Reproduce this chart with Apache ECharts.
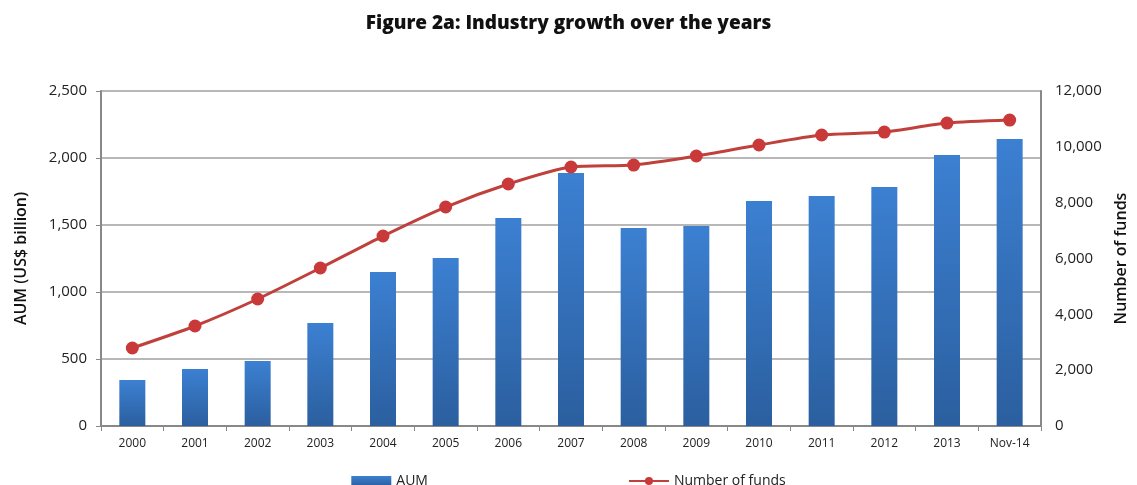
<!DOCTYPE html>
<html><head><meta charset="utf-8">
<script src="https://cdn.jsdelivr.net/npm/echarts@6/dist/echarts.min.js"></script>
<style>html,body{margin:0;padding:0;background:#fff}#c{width:1137px;height:485px}</style>
</head><body><div id="c"></div>
<script>
const categories = ['2000','2001','2002','2003','2004','2005','2006','2007','2008','2009','2010','2011','2012','2013','Nov-14'];
const aum = [343, 425, 485, 769, 1149, 1254, 1552, 1888, 1478, 1493, 1679, 1716, 1784, 2022, 2142];
const funds = [2794, 3582, 4549, 5659, 6805, 7844, 8668, 9277, 9348, 9671, 10065, 10423, 10530, 10852, 10960];

const font = '"Open Sans", "DejaVu Sans", sans-serif';
const chart = echarts.init(document.getElementById('c'));
chart.setOption({
  animation: false,
  title: { text: 'Figure 2a: Industry growth over the years', left: 'center', top: 9,
    textStyle: { fontFamily: font, fontWeight: 800, fontSize: 19, color: '#111' } },
  grid: { left: 101, right: 87, top: 91, bottom: 59 },
  legend: {
    top: 469, left: 'center', itemGap: 200, itemWidth: 40, itemHeight: 10,
    textStyle: { fontFamily: font, fontSize: 14, color: '#222' },
    data: [{ name: 'AUM', icon: 'rect' }, { name: 'Number of funds' }]
  },
  xAxis: {
    type: 'category', data: categories, boundaryGap: true,
    axisLine: { lineStyle: { color: '#888', width: 2 } },
    axisTick: { show: true, alignWithLabel: false, lineStyle: { color: '#888' }, length: 5 },
    axisLabel: { fontFamily: font, fontSize: 12, color: '#222', margin: 12 }
  },
  yAxis: [
    { type: 'value', min: 0, max: 2500, interval: 500, name: 'AUM (US$ billion)',
      nameLocation: 'middle', nameGap: 72, nameRotate: 90,
      nameTextStyle: { fontFamily: font, fontSize: 16, fontWeight: 600, color: '#111' },
      axisLine: { show: true, lineStyle: { color: '#888', width: 2 } },
      axisTick: { show: true, length: 5, lineStyle: { color: '#888' } },
      axisLabel: { fontFamily: font, fontSize: 15, color: '#222', margin: 14,
        formatter: v => v.toLocaleString('en-US') },
      splitLine: { show: true, lineStyle: { color: '#a0a0a0', width: 1.5 } } },
    { type: 'value', min: 0, max: 12000, interval: 2000, name: 'Number of funds',
      nameLocation: 'middle', nameGap: 72, nameRotate: 90,
      nameTextStyle: { fontFamily: font, fontSize: 16, fontWeight: 600, color: '#111' },
      axisLine: { show: true, lineStyle: { color: '#888', width: 2 } },
      axisTick: { show: false },
      axisLabel: { fontFamily: font, fontSize: 15, color: '#222', margin: 14,
        formatter: v => v.toLocaleString('en-US') },
      splitLine: { show: false } }
  ],
  series: [
    { name: 'AUM', type: 'bar', data: aum, yAxisIndex: 0, barWidth: 26,
      itemStyle: { color: new echarts.graphic.LinearGradient(0, 0, 0, 1, [
        { offset: 0, color: '#3c80d2' }, { offset: 1, color: '#2b5f9f' }]) } },
    { name: 'Number of funds', type: 'line', data: funds, yAxisIndex: 1, smooth: 0.25,
      symbol: 'circle', symbolSize: 13,
      lineStyle: { color: '#c0403c', width: 3 },
      itemStyle: { color: '#c9393a' } }
  ]
});
</script></body></html>
